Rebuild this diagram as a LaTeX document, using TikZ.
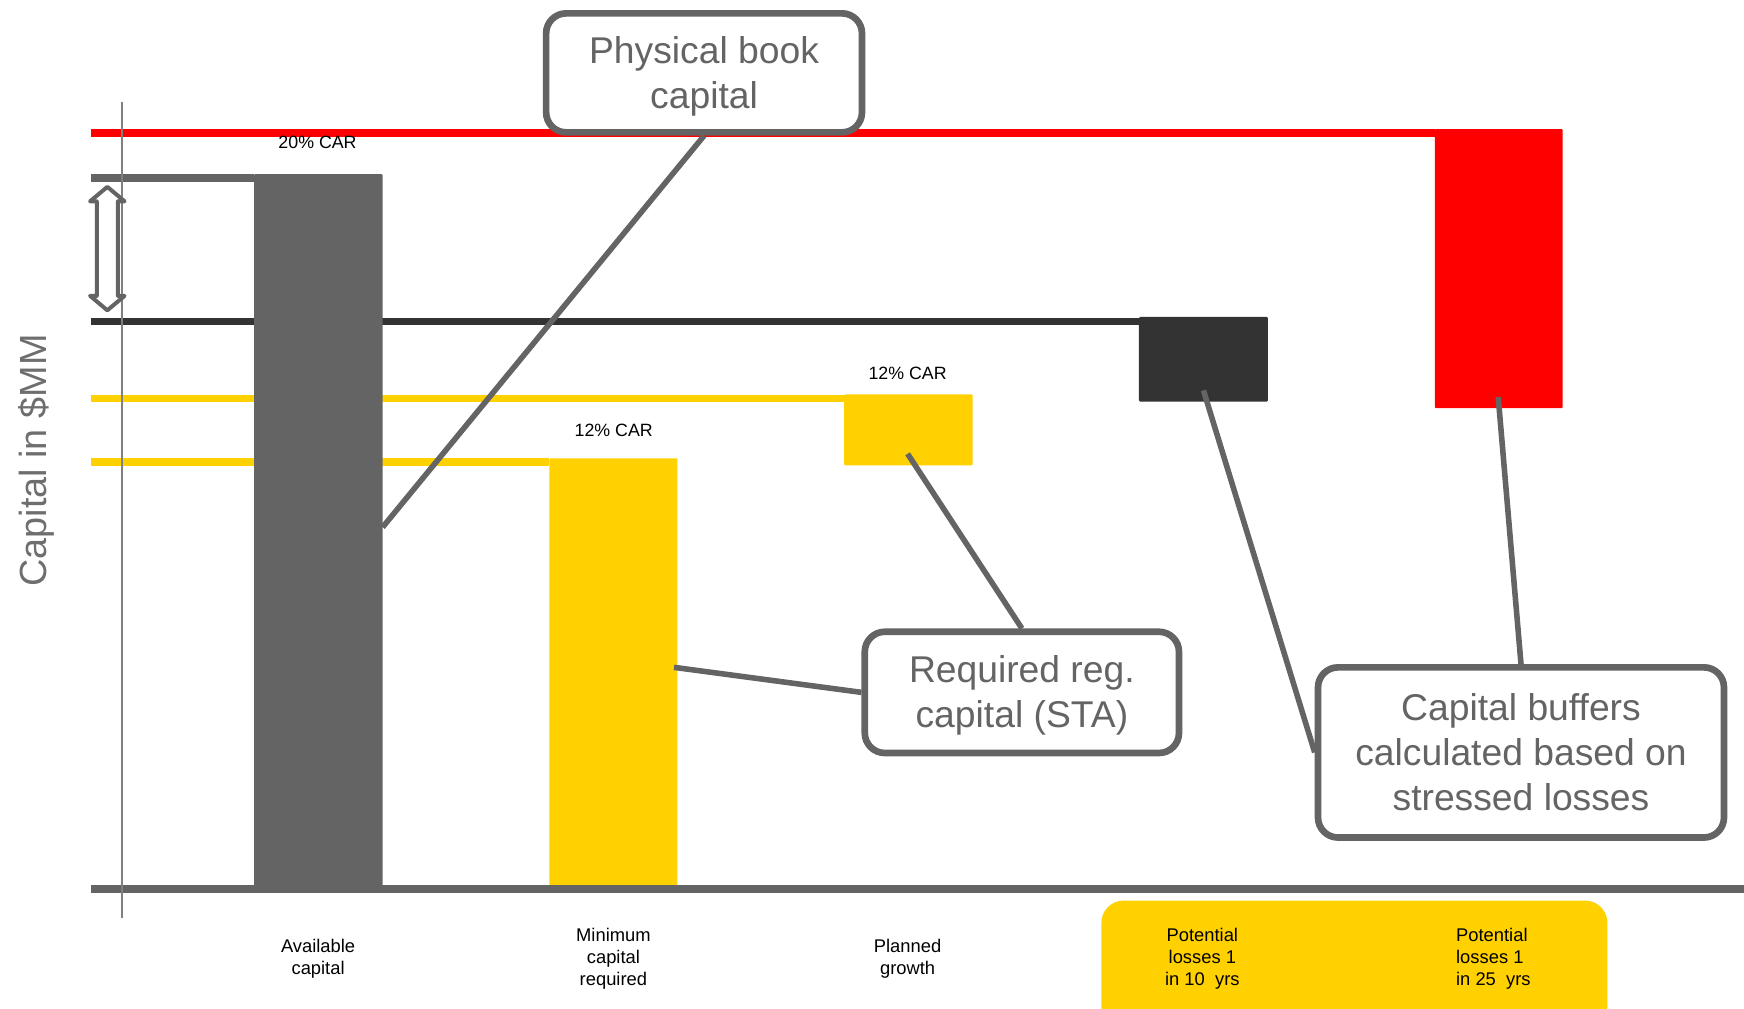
\documentclass[tikz,border=0pt]{standalone}
\usepackage{fontspec}
\setmainfont{Liberation Sans}
\definecolor{eygrey}{HTML}{646464}
\definecolor{eydark}{HTML}{333333}
\definecolor{eyyellow}{HTML}{FFD100}
\definecolor{eyred}{HTML}{FF0000}
\definecolor{axisgrey}{HTML}{808080}
\definecolor{ylab}{HTML}{6E6E6E}
\pgfdeclarelayer{bg}
\pgfdeclarelayer{top}
\pgfsetlayers{bg,main,top}
\begin{document}
\begin{tikzpicture}[x=1pt,y=-1pt,
  lvl/.style={line width=6.6pt},
  bar/.style={inner sep=0pt, outer sep=0pt, anchor=north west, rounded corners=1pt},
  callout/.style={draw=eygrey, line width=6pt, rounded corners=18pt, fill=white, inner sep=0pt},
  conn/.style={draw=eygrey, line width=5pt},
  bigtext/.style={text=eygrey, font=\fontsize{33.5}{40.4}\selectfont, align=center, inner sep=0pt},
  smalltext/.style={font=\fontsize{16.5}{19.5}\selectfont, align=center, inner sep=0pt},
  cartext/.style={font=\fontsize{16}{19}\selectfont, inner sep=0pt, anchor=base}]

\useasboundingbox (0,0) rectangle (1568,907);
\clip (0,0) rectangle (1568,907);

% y-axis label
\node[rotate=90, anchor=base, text=ylab, font=\fontsize{34}{40}\selectfont, inner sep=0pt] (ylabel) at (42,414) {Capital in \$MM};

% bars
\node[bar, fill=eyred, minimum width=115, minimum height=251] (redbar) at (1290,116) {};
\node[bar, fill=eydark, minimum width=116, minimum height=76] (darkbar) at (1024,285) {};
\node[bar, fill=eyyellow, minimum width=115.5, minimum height=64] (growthbar) at (759,354.5) {};
\node[bar, fill=eyyellow, minimum width=115, minimum height=384] (minbar) at (494,412) {};
\node[bar, fill=eygrey, minimum width=115.6, minimum height=640] (availbar) at (228.4,156.5) {};

% level lines (behind the bars)
\coordinate (redL) at (82,119.6);
\coordinate (greyL) at (82,160);
\coordinate (darkL) at (82,289);
\coordinate (yelL1) at (82,358);
\coordinate (yelL2) at (82,415.5);
\begin{pgfonlayer}{bg}
\draw[lvl, eyred] (redL) -- (redL -| redbar.west);
\draw[lvl, eygrey] (greyL) -- (greyL -| availbar.west);
\draw[lvl, eydark] (darkL) -- (darkL -| darkbar.west);
\draw[lvl, eyyellow] (yelL1) -- (yelL1 -| growthbar.west);
\draw[lvl, eyyellow] (yelL2) -- (yelL2 -| minbar.west);
\end{pgfonlayer}

% base line
\coordinate (baseL) at (82,799);
\coordinate (baseR) at (1575,799);
\draw[line width=7pt, eygrey] (baseL) -- (baseR);

% thin vertical axis
\coordinate (axT) at (109.4,91.4);
\coordinate (axB) at (109.4,825.6);
\draw[line width=1.5pt, axisgrey] (axT) -- (axB);

% hollow double arrow
\draw[eygrey, fill=white, line width=3.6pt, line join=round]
  (96.5,168) -- (112,181) -- (106,181) -- (106,266) -- (112,266) -- (96.5,279)
  -- (81,266) -- (87,266) -- (87,181) -- (81,181) -- cycle;

% CAR labels
\node[cartext] (car20) at (285.5,133.3) {20\% CAR};
\node[cartext] (car12a) at (551.8,392) {12\% CAR};
\node[cartext] (car12b) at (816,341) {12\% CAR};

% connector end points on the bars
\coordinate (physend) at (344,474);
\coordinate (growthpt) at (816,408);
\coordinate (minpt) at (606,600);
\coordinate (darkpt) at (1082,351);
\coordinate (redpt) at (1347,357);

% callout boxes (on the top layer)
\begin{pgfonlayer}{top}
\node[callout, minimum width=284, minimum height=107] (physbox) at (633,65.5) {};
\node[callout, minimum width=282.5, minimum height=109] (reqbox) at (918.75,622.5) {};
\node[callout, minimum width=365, minimum height=153] (bufbox) at (1367.5,676.5) {};
\node[bigtext] (phystext) at (633,68.5) {Physical book\\capital};
\node[bigtext] (reqtext) at (918.75,625.5) {Required reg.\\capital (STA)};
\node[bigtext] (buftext) at (1367.5,676.3) {Capital buffers\\calculated based on\\stressed losses};
\end{pgfonlayer}

% connectors
\draw[conn] (physbox.south) -- (physend);
\draw[conn] (reqbox.north) -- (growthpt);
\draw[conn] (reqbox.west) -- (minpt);
\draw[conn] (bufbox.west) -- (darkpt);
\draw[conn] (bufbox.north) -- (redpt);

% bottom band and category labels
\node[fill=eyyellow, rounded corners=20pt, minimum width=455, minimum height=115, anchor=north west, inner sep=0pt] (lossband) at (990,809.5) {};
\node[smalltext] (lblavail) at (286,862) {Available\\capital};
\node[smalltext] (lblmin) at (551.5,862) {Minimum\\capital\\required};
\node[smalltext] (lblgrowth) at (816,862) {Planned\\growth};
\node[smalltext] (lbl10) at (1081,862) {Potential\\losses 1\\in 10\ \ yrs};
\node[smalltext, align=left, anchor=west] (lbl25) at (1309,862) {Potential\\losses 1\\in 25\ \ yrs};
\end{tikzpicture}
\end{document}
